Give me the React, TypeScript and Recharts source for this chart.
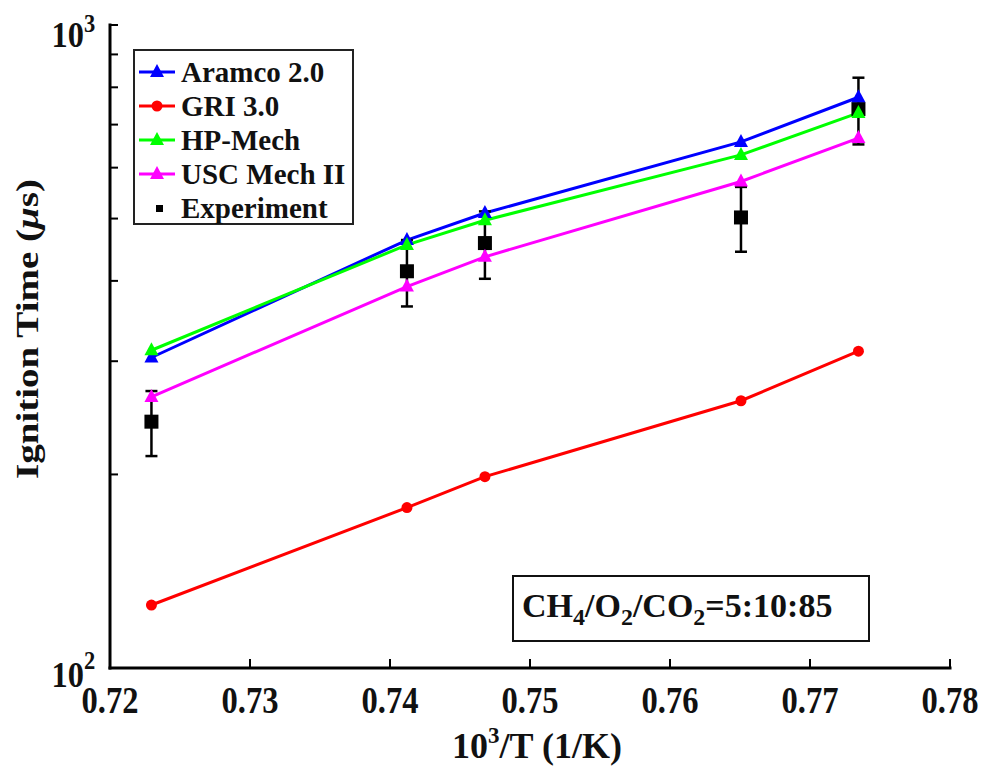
import React from "react";
import { ComposedChart, Line, Scatter, ErrorBar, XAxis, YAxis, Legend, Label } from "recharts";

// 1000/T values (1/K) of the five shock-tube conditions
const invTemp = [0.72296, 0.74121, 0.74678, 0.76507, 0.77346];

// ignition delay, microseconds
const aramco = [304, 463, 510, 658, 772];
const gri = [125.3, 177.6, 198.4, 260.4, 311];
const hpMech = [312, 455, 497, 628, 730];
const uscMech = [264, 392, 436, 571, 667];
const experiment = [241.6, 414, 458, 502, 740];
const experimentErr = [28, 49, 55, 58, 88];

const xTicks = [0.72, 0.73, 0.74, 0.75, 0.76, 0.77, 0.78];
const yTicks = [100, 200, 300, 400, 500, 600, 700, 800, 900, 1000];

const series = [
  { key: "aramco", name: "Aramco 2.0", color: "#0000ff", marker: "triangle" },
  { key: "gri", name: "GRI 3.0", color: "#ff0000", marker: "circle" },
  { key: "hp", name: "HP-Mech", color: "#00ff00", marker: "triangle" },
  { key: "usc", name: "USC Mech II", color: "#ff00ff", marker: "triangle" },
];

const data = invTemp.map((x, i) => ({
  x,
  aramco: aramco[i],
  gri: gri[i],
  hp: hpMech[i],
  usc: uscMech[i],
  exp: experiment[i],
  expErr: experimentErr[i],
}));

const FONT = '"Liberation Serif", "Times New Roman", serif';

function Marker({ cx, cy, type, color }: any) {
  if (cx == null || cy == null) return null;
  if (type === "circle") return <circle cx={cx} cy={cy} r={5.5} fill={color} />;
  if (type === "square") return <rect x={cx - 7} y={cy - 7} width={14} height={14} fill="#000" />;
  return <polygon points={`${cx},${cy - 8} ${cx - 7},${cy + 5} ${cx + 7},${cy + 5}`} fill={color} />;
}

function BottomTick({ x, y, payload }: any) {
  return (
    <g>
      <line x1={x} x2={x} y1={y} y2={y - 9} stroke="#000" strokeWidth={2} />
      <text
        transform={`translate(${x} ${y + 45}) scale(0.88 1)`}
        textAnchor="middle"
        fontFamily={FONT}
        fontWeight="bold"
        fontSize={37}
        fill="#111"
      >
        {Number(payload.value).toFixed(2)}
      </text>
    </g>
  );
}

function TopTick({ x, y }: any) {
  return <line x1={x} x2={x} y1={y} y2={y + 9} stroke="#000" strokeWidth={2} />;
}

function LeftTick({ x, y, payload }: any) {
  const v = payload.value;
  const major = v === 100 || v === 1000;
  const top = v === 1000;
  return (
    <g>
      <line x1={x} x2={x + 8} y1={y} y2={y} stroke="#000" strokeWidth={2} />
      {major && (
        <g fontFamily={FONT} fontWeight="bold" fill="#111">
          <text transform={`translate(84 ${y + (top ? 22 : 19)}) scale(0.9 1)`} textAnchor="end" fontSize={36}>
            10
          </text>
          <text transform={`translate(84 ${y + (top ? 7 : 1)}) scale(0.9 1)`} fontSize={25}>
            {top ? "3" : "2"}
          </text>
        </g>
      )}
    </g>
  );
}

function RightTick({ x, y }: any) {
  return <line x1={x} x2={x - 8} y1={y} y2={y} stroke="#000" strokeWidth={2} />;
}

const XTitle = () => (
  <text
    transform="translate(537 758)"
    textAnchor="middle"
    fontFamily={FONT}
    fontWeight="bold"
    fontSize={36}
    fill="#111"
  >
    10<tspan dy={-15} fontSize={23}>3</tspan>
    <tspan dy={15}>/T (1/K)</tspan>
  </text>
);

const YTitle = () => (
  <text
    transform="translate(38 329) rotate(-90) scale(1.22 1)"
    textAnchor="middle"
    fontFamily={FONT}
    fontWeight="bold"
    fontSize={32}
    fill="#111"
  >
    Ignition Time (<tspan fontStyle="italic">μ</tspan>s)
  </text>
);

function LegendBox() {
  const rows = [...series, { key: "exp", name: "Experiment", color: "#000", marker: "square" }];
  return (
    <div
      style={{
        width: 221,
        height: 176,
        boxSizing: "border-box",
        border: "2.5px solid #222",
        background: "#fff",
        paddingTop: 4,
      }}
    >
      {rows.map((r) => (
        <div key={r.key} style={{ display: "flex", alignItems: "center", height: 34 }}>
          <svg width={46} height={34} style={{ flex: "none" }}>
            {r.marker === "square" ? (
              <rect x={21} y={14} width={7} height={7} fill="#000" />
            ) : (
              <>
                <line x1={4} x2={40} y1={17} y2={17} stroke={r.color} strokeWidth={3} />
                <Marker cx={22} cy={17} type={r.marker} color={r.color} />
              </>
            )}
          </svg>
          <span style={{ font: `bold 29px ${FONT}`, lineHeight: "34px", color: "#111", whiteSpace: "nowrap" }}>
            {r.name}
          </span>
        </div>
      ))}
    </div>
  );
}

export default function App() {
  return (
    <div style={{ position: "relative", width: 985, height: 766, background: "#fff" }}>
      <style>{"body{margin:0}"}</style>
      <ComposedChart width={985} height={766} data={data} margin={{ top: 25, right: 35, bottom: 0, left: 0 }}>
        <XAxis
          dataKey="x"
          type="number"
          domain={[0.72, 0.78]}
          ticks={xTicks}
          allowDataOverflow
          height={98}
          tickSize={0}
          tickMargin={0}
          tickLine={false}
          axisLine={{ stroke: "#000", strokeWidth: 3, strokeLinecap: "square" }}
          tick={(p: any) => <BottomTick {...p} />}
        >
          <Label content={() => <XTitle />} />
        </XAxis>
        <XAxis
          xAxisId="top"
          orientation="top"
          type="number"
          domain={[0.72, 0.78]}
          ticks={xTicks}
          allowDataOverflow
          height={0}
          tickSize={0}
          tickMargin={0}
          tickLine={false}
          axisLine={{ stroke: "#000", strokeWidth: 3, strokeLinecap: "square" }}
          tick={(p: any) => <TopTick {...p} />}
        />
        <YAxis
          scale="log"
          type="number"
          domain={[100, 1000]}
          ticks={yTicks}
          allowDataOverflow
          width={110}
          tickSize={0}
          tickMargin={0}
          tickLine={false}
          axisLine={{ stroke: "#000", strokeWidth: 3, strokeLinecap: "square" }}
          tick={(p: any) => <LeftTick {...p} />}
        >
          <Label content={() => <YTitle />} />
        </YAxis>
        <YAxis
          yAxisId="right"
          orientation="right"
          scale="log"
          type="number"
          domain={[100, 1000]}
          ticks={yTicks}
          allowDataOverflow
          width={0}
          tickSize={0}
          tickMargin={0}
          tickLine={false}
          axisLine={{ stroke: "#000", strokeWidth: 3, strokeLinecap: "square" }}
          tick={(p: any) => <RightTick {...p} />}
        />
        {series.map((s) => (
          <Line
            key={s.key}
            dataKey={s.key}
            name={s.name}
            type="linear"
            stroke={s.color}
            strokeWidth={3}
            isAnimationActive={false}
            activeDot={false}
            dot={(p: any) => <Marker key={`${s.key}-${p.index}`} cx={p.cx} cy={p.cy} type={s.marker} color={s.color} />}
          />
        ))}
        <Scatter
          dataKey="exp"
          name="Experiment"
          fill="#000"
          isAnimationActive={false}
          shape={(p: any) => <Marker cx={p.cx} cy={p.cy} type="square" color="#000" />}
        >
          <ErrorBar dataKey="expErr" direction="y" width={6} stroke="#000" strokeWidth={2.5} />
        </Scatter>
        <Legend
          layout="vertical"
          align="center"
          verticalAlign="middle"
          wrapperStyle={{ left: 133, top: 49, width: 221, height: 176 }}
          content={() => <LegendBox />}
        />
      </ComposedChart>
      <div
        style={{
          position: "absolute",
          left: 512,
          top: 575,
          width: 358,
          height: 67,
          boxSizing: "border-box",
          border: "2.5px solid #111",
          background: "#fff",
          display: "flex",
          alignItems: "center",
          paddingLeft: 8,
          font: `bold 34px ${FONT}`,
          color: "#111",
          whiteSpace: "nowrap",
        }}
      >
        <span>
          CH<sub style={{ fontSize: 24, verticalAlign: -8 }}>4</sub>/O<sub style={{ fontSize: 24, verticalAlign: -8 }}>2</sub>/CO
          <sub style={{ fontSize: 24, verticalAlign: -8 }}>2</sub>=5:10:85
        </span>
      </div>
    </div>
  );
}
